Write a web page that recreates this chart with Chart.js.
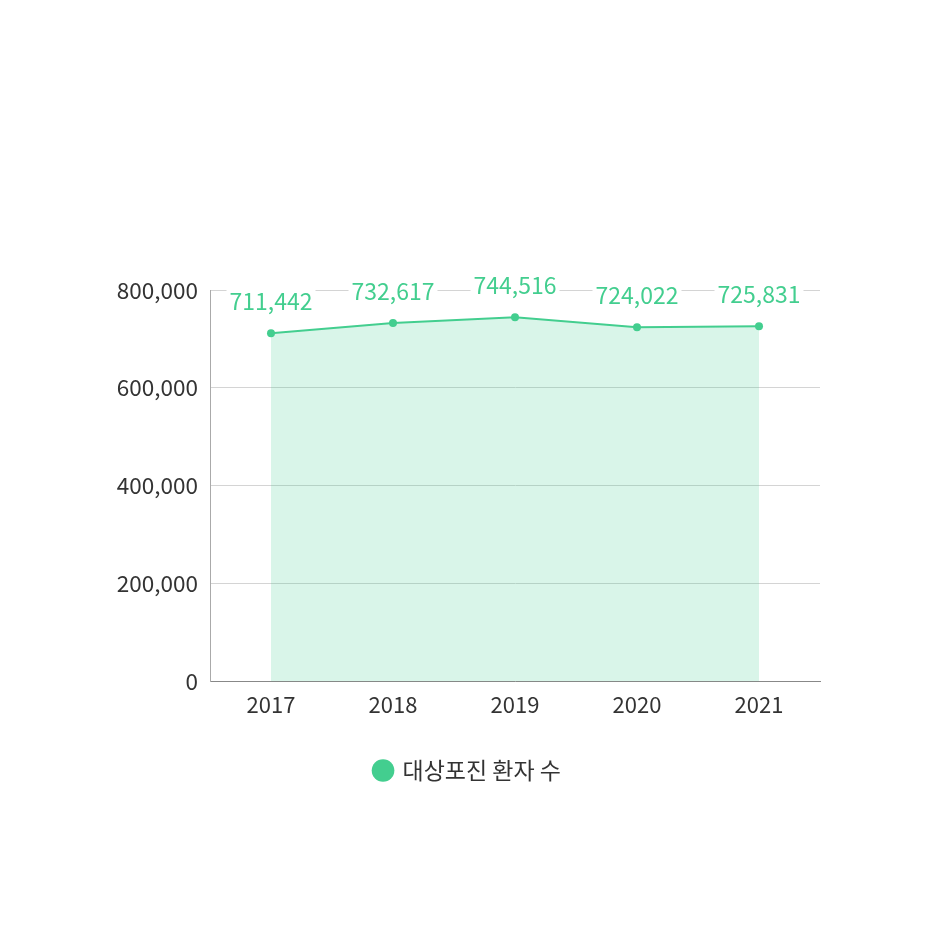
<!DOCTYPE html>
<html>
<head>
<meta charset="utf-8">
<script src="https://cdn.jsdelivr.net/npm/chart.js@4"></script>
<style>
  html, body { margin: 0; padding: 0; background: #fff; }
  #wrap { width: 936px; height: 936px; position: relative; }
</style>
</head>
<body>
<div id="wrap"><canvas id="shingles-chart"></canvas></div>
<script>
// data
const years = ['2017', '2018', '2019', '2020', '2021'];
const patients = [711442, 732617, 744516, 724022, 725831];
const seriesName = '대상포진 환자 수';
const yTicks = [0, 200000, 400000, 600000, 800000];

const green = 'rgb(67,206,143)';
const fontFamily = "'Noto Sans CJK KR', 'Noto Sans', sans-serif";

// value labels above each point, on a white box so the gridline is cut
const valueLabels = {
    id: 'valueLabels',
    afterLayout(chart) {
        // legend is centred on the whole canvas, not on the plot
        chart.legend.left = 0;
        chart.legend.right = chart.width;
        chart.legend.width = chart.width;
    },
    afterDatasetsDraw(chart) {
        const ctx = chart.ctx;
        const meta = chart.getDatasetMeta(0);
        ctx.save();
        ctx.font = '23px ' + fontFamily;
        ctx.textAlign = 'center';
        ctx.textBaseline = 'middle';
        meta.data.forEach(function (pt, i) {
            const txt = patients[i].toLocaleString('en-US');
            const w = ctx.measureText(txt).width;
            const y = pt.y - 32;
            ctx.fillStyle = '#fff';
            ctx.fillRect(pt.x - w / 2 - 3, y - 12, w + 6, 24);
            ctx.fillStyle = green;
            ctx.fillText(txt, pt.x, y);
        });
        ctx.restore();
    }
};

const ShinglesCtx = document.getElementById('shingles-chart');
const ShinglesChart = new Chart(ShinglesCtx, {
    type: 'line',
    data: {
        labels: years,
        datasets: [{
            label: seriesName,
            data: patients,
            borderColor: green,
            backgroundColor: 'rgba(67,206,143,0.2)',
            borderWidth: 2,
            pointRadius: 4,
            pointHoverRadius: 4,
            pointBackgroundColor: green,
            pointBorderWidth: 0,
            tension: 0,
            fill: true,
        }]
    },
    options: {
        responsive: true,
        maintainAspectRatio: false,
        animation: false,
        layout: {
            padding: { top: 290, right: 116, bottom: 144, left: 0 }
        },
        plugins: {
            legend: {
                position: 'bottom',
                labels: {
                    usePointStyle: true,
                    pointStyle: 'circle',
                    boxWidth: 16,
                    boxHeight: 16,
                    padding: 39,
                    color: '#333',
                    font: { family: fontFamily, size: 23 }
                }
            },
            tooltip: { enabled: false }
        },
        scales: {
            x: {
                offset: true,
                grid: { display: false },
                border: { display: true, color: '#888', width: 1 },
                ticks: {
                    color: '#333',
                    padding: 2,
                    font: { family: fontFamily, size: 22 }
                }
            },
            y: {
                min: 0,
                max: 800000,
                afterBuildTicks(scale) {
                    scale.ticks = yTicks.map(v => ({ value: v }));
                },
                afterFit(scale) {
                    scale.width = 210;
                },
                grid: { color: '#d4d4d4', drawTicks: false },
                border: { display: true, color: '#aaa', width: 1 },
                ticks: {
                    color: '#333',
                    padding: 12,
                    font: { family: fontFamily, size: 22.5 },
                    callback: v => v.toLocaleString('en-US')
                }
            }
        }
    },
    plugins: [valueLabels]
});
</script>
</body>
</html>
